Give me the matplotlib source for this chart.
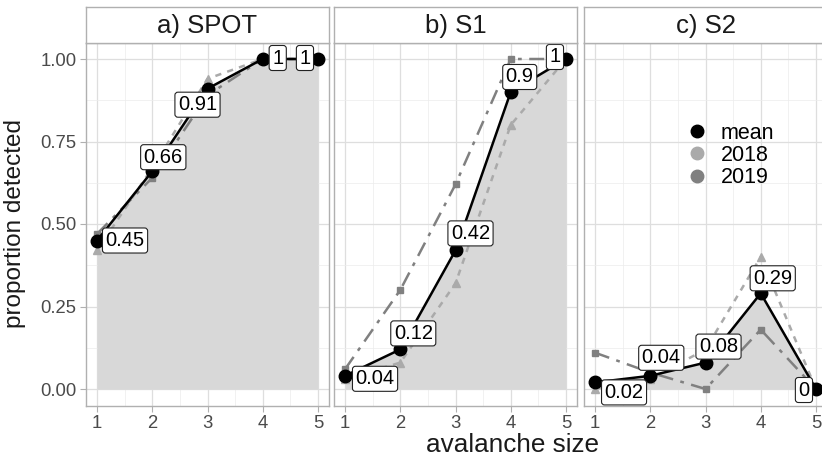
import matplotlib
matplotlib.use("Agg")
import matplotlib.pyplot as plt
from matplotlib.lines import Line2D
import numpy as np

plt.rcParams['font.family'] = ['Liberation Sans', 'DejaVu Sans']

# ---- data ----
sizes = [1, 2, 3, 4, 5]
panels = ["a) SPOT", "b) S1", "c) S2"]
mean_spot = [0.45, 0.66, 0.91, 1.00, 1.00]
mean_s1 = [0.04, 0.12, 0.42, 0.90, 1.00]
mean_s2 = [0.02, 0.04, 0.08, 0.29, 0.00]
y2018_spot = [0.42, 0.67, 0.94, 1.00, 1.00]
y2018_s1 = [0.03, 0.08, 0.32, 0.80, 1.00]
y2018_s2 = [0.00, 0.03, 0.12, 0.40, 0.00]
y2019_spot = [0.47, 0.64, 0.89, 1.00, 1.00]
y2019_s1 = [0.06, 0.30, 0.62, 1.00, 1.00]
y2019_s2 = [0.11, 0.05, 0.00, 0.18, 0.00]
yticks = [0.00, 0.25, 0.50, 0.75, 1.00]
ytick_labels = ["0.00", "0.25", "0.50", "0.75", "1.00"]

means = [mean_spot, mean_s1, mean_s2]
y2018 = [y2018_spot, y2018_s1, y2018_s2]
y2019 = [y2019_spot, y2019_s1, y2019_s2]

# label offsets from each mean point, in pixels (repelled label placement)
label_offsets = [
    [(28, 0), (11, 14), (-10, -16), (15, 1), (-13, 1)],
    [(30, -3), (13, 16), (15, 17), (9, 15), (-11, 2)],
    [(29, -10), (11, 18), (13, 16), (12, 15), (-12, -1)],
]

W, H = 822, 457
fig = plt.figure(figsize=(W / 100, H / 100), dpi=100)

c_2018 = "#aaaaaa"
c_2019 = "#808080"
border = "#b0b0b0"
grid_major = "#dedede"
grid_minor = "#ececec"

panel_lefts = [86, 334, 584]
panel_w = 243
top_px, bottom_px, strip_top = 42.5, 405.5, 7

def frac_rect(x0, y0, w, h):
    return [x0 / W, 1 - (y0 + h) / H, w / W, h / H]

axes = []
for i, left in enumerate(panel_lefts):
    ax = fig.add_axes(frac_rect(left, top_px, panel_w, bottom_px - top_px))
    axes.append(ax)
    ax.set_xlim(0.8, 5.2)
    ax.set_ylim(-0.05, 1.05)
    ax.set_xticks(sizes)
    ax.set_xticks([1.5, 2.5, 3.5, 4.5], minor=True)
    ax.set_yticks(yticks)
    ax.set_yticks([0.125, 0.375, 0.625, 0.875], minor=True)
    ax.grid(True, which='major', color=grid_major, lw=0.9, zorder=0)
    ax.grid(True, which='minor', color=grid_minor, lw=0.5, zorder=0)
    ax.set_axisbelow(True)
    for s in ax.spines.values():
        s.set_color(border)
        s.set_linewidth(1.0)
    ax.tick_params(axis='x', which='major', length=4, color=border,
                   labelsize=13.3, labelcolor='#4a4a4a', pad=3)
    ax.tick_params(which='minor', length=0)
    if i == 0:
        ax.set_yticklabels(ytick_labels)
        ax.tick_params(axis='y', which='major', length=4, color=border,
                       labelsize=13.3, labelcolor='#4a4a4a', pad=3)
    else:
        ax.tick_params(axis='y', which='major', length=0, labelleft=False)

    m = means[i]
    ax.fill_between(sizes, 0, m, color='#d8d8d8', lw=0, zorder=1)
    ax.plot(sizes, y2018[i], color=c_2018, lw=1.8, ls=(0, (2.5, 2.5)),
            marker='^', ms=6, zorder=2)
    ax.plot(sizes, y2019[i], color=c_2019, lw=1.8, ls=(0, (6, 3, 1.5, 3)),
            marker='s', ms=5, zorder=2.5)
    ax.plot(sizes, m, color='black', lw=1.8, marker='o', ms=9, zorder=3)

    for x, v, off in zip(sizes, m, label_offsets[i]):
        txt = f"{v:g}"
        ax.annotate(txt, (x, v), xytext=off, textcoords='offset pixels',
                    ha='center', va='center', fontsize=14.5, zorder=5,
                    bbox=dict(boxstyle='round,pad=0.15,rounding_size=0.15',
                              fc='white', ec='#222222', lw=0.8))

    # facet strip
    sax = fig.add_axes(frac_rect(left, strip_top, panel_w, top_px - strip_top))
    sax.set_xticks([]); sax.set_yticks([])
    sax.set_facecolor('white')
    for s in sax.spines.values():
        s.set_color(border)
        s.set_linewidth(1.0)
    sax.text(0.5, 0.47, panels[i], transform=sax.transAxes, ha='center',
             va='center', fontsize=18.5, color='#1a1a1a')

# legend inside the third panel
handles = [Line2D([], [], ls='none', marker='o', ms=9, color=c)
           for c in ['black', c_2018, c_2019]]
axes[2].legend(handles, ['mean', '2018', '2019'], loc='upper left',
               bbox_to_anchor=(0.36, 0.82), frameon=False, fontsize=15.5,
               handletextpad=0.6, labelspacing=0.05, handlelength=1.0,
               borderpad=0.2)

fig.text(15 / W, 1 - 224 / H, "proportion detected", rotation=90,
         ha='center', va='center', fontsize=17.5, color='#1a1a1a')
fig.text(512 / W, 1 - 452 / H, "avalanche size", ha='center', va='baseline',
         fontsize=18.8, color='#1a1a1a')

fig.savefig("out.png", dpi=100, facecolor='white')
